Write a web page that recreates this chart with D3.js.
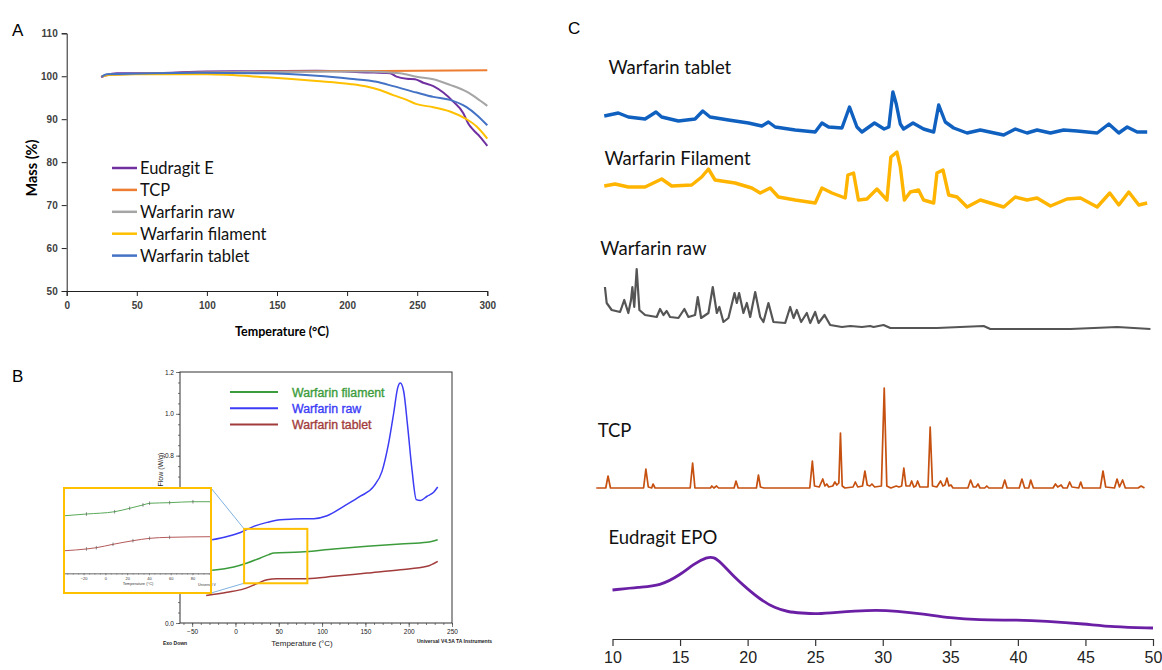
<!DOCTYPE html>
<html>
<head>
<meta charset="utf-8">
<script src="https://cdn.jsdelivr.net/npm/d3@7"></script>
<style>
body { margin: 0; background: #fff; }
svg { display: block; font-family: Lato, "Open Sans", sans-serif; }
</style>
</head>
<body>
<svg width="1162" height="670"></svg>
<script>
"use strict";
// ---------- A: TGA mass loss (temperature °C, mass %) ----------
const tgaNames = ["Eudragit E", "TCP", "Warfarin raw", "Warfarin filament", "Warfarin tablet"];
const tgaColors = ["#7030a0", "#ed7d31", "#a5a5a5", "#ffc000", "#4472c4"];
const tgaEudragit = [[24.5, 99.8], [28.5, 100.3], [35.7, 100.7], [59.4, 100.7], [99.8, 101.1], [142.6, 101.2],
  [178.3, 101.3], [213.9, 100.9], [230.6, 100.7], [235.3, 99.9], [242.5, 99.4], [248.4, 99.3], [254.3, 98.5],
  [261.5, 97.7], [268.6, 96.2], [275.7, 94.1], [282.9, 91.4], [286.4, 89.0], [290, 87.5], [294.8, 85.9], [300, 83.8]];
const tgaTCP = [[25, 99.9], [30, 100.3], [50, 100.6], [100, 100.9], [150, 101.1], [200, 101.2], [250, 101.3], [300, 101.4]];
const tgaRaw = [[25, 99.9], [30, 100.4], [60, 100.6], [100, 100.9], [150, 101.0], [213.9, 101.1], [237.7, 100.7],
  [249.6, 99.9], [261.5, 99.3], [273.4, 98.0], [285.2, 96.4], [292.4, 94.9], [300, 93.1]];
const tgaFilament = [[25, 100.0], [30, 100.3], [47.5, 100.45], [99.8, 100.45], [142.6, 99.75], [178.3, 98.9],
  [202, 98.2], [213.9, 97.6], [223.4, 96.8], [232.9, 95.6], [242.5, 94.5], [249.6, 93.5], [261.5, 92.8],
  [273.4, 91.8], [285.2, 90.0], [292.4, 88.3], [300, 85.5]];
const tgaTablet = [[25, 99.9], [28.5, 100.45], [95, 100.8], [142.6, 100.7], [178.3, 100.1], [202, 99.4],
  [221, 98.7], [232.9, 97.7], [249.6, 96.2], [261.5, 95.2], [273.4, 94.5], [285.2, 92.8], [292.4, 91.0], [300, 88.6]];
const tgaData = [tgaEudragit, tgaTCP, tgaRaw, tgaFilament, tgaTablet];
const tgaXTicks = [0, 50, 100, 150, 200, 250, 300];
const tgaYTicks = [50, 60, 70, 80, 90, 100, 110];

// ---------- B: DSC heat flow (temperature °C, W/g) ----------
const dscNames = ["Warfarin filament", "Warfarin raw", "Warfarin tablet"];
const dscColors = ["#3c9c3c", "#3c3cf5", "#a23c3c"];
const dscFilament = [[-26.9, 0.252], [-1.9, 0.268], [13.5, 0.287], [28.8, 0.311], [38.5, 0.327], [44.2, 0.335],
  [75, 0.339], [113.5, 0.354], [151.9, 0.367], [190.4, 0.378], [221.2, 0.386], [233.5, 0.398]];
const dscRaw = [[-26.9, 0.398], [-9.6, 0.414], [5.8, 0.433], [21.2, 0.462], [36.5, 0.481], [51.9, 0.494],
  [67.3, 0.497], [90.4, 0.499], [105.8, 0.513], [125, 0.558], [144.2, 0.606], [159.6, 0.653], [169.2, 0.725],
  [176.9, 0.861], [182.7, 1.004], [187.3, 1.124], [190.4, 1.147], [194.2, 1.108], [198.8, 0.94], [203.8, 0.733],
  [208.8, 0.59], [213.5, 0.586], [221.2, 0.606], [228.8, 0.625], [233.5, 0.65]];
const dscTablet = [[-33.8, 0.131], [-9.6, 0.147], [9.6, 0.163], [25, 0.188], [36.5, 0.207], [48.1, 0.212],
  [82.7, 0.212], [113.5, 0.223], [151.9, 0.239], [190.4, 0.255], [221.2, 0.271], [233.5, 0.295]];
const dscData = [dscFilament, dscRaw, dscTablet];
const dscXTicks = [-50, 0, 50, 100, 150, 200, 250];
const dscYTicks = [0, 0.2, 0.4, 0.6, 0.8, 1.0, 1.2];
const dscZoom = { t: [10, 83], w: [0.19, 0.45] };
// inset (glass transition close-up, relative units)
const insetFilament = [[-37.3, 0.675], [-17.4, 0.695], [8.5, 0.722], [22.3, 0.762], [34.5, 0.801], [40.6, 0.821],
  [59, 0.828], [80.4, 0.839], [96.6, 0.839]];
const insetTablet = [[-37.3, 0.265], [-17.4, 0.285], [-8.3, 0.3], [7, 0.34], [25.3, 0.382], [40.6, 0.41],
  [59, 0.422], [96.6, 0.429]];
const insetTicks = [-20, 0, 20, 40, 60, 80];

// ---------- C: XRD patterns (2θ, intensity a.u., stacked) ----------
const xrdTablet = [[9.39, 523], [10.43, 526], [11.17, 522], [12.41, 520], [13.22, 527], [13.64, 522], [14.88, 518],
  [16.11, 520], [16.68, 528], [17.22, 522], [18.58, 519], [20.06, 516], [21.05, 513], [21.54, 517], [22.04, 512],
  [23.52, 509], [25.0, 507], [25.5, 516], [25.99, 512], [26.98, 511], [27.54, 532], [28.09, 512], [28.46, 507],
  [29.39, 516], [30.1, 510], [30.45, 512], [30.75, 547], [31.0, 535], [31.3, 515], [31.54, 510], [32.24, 516],
  [33.02, 510], [33.77, 507], [34.14, 534], [34.63, 517], [35.25, 511], [36.24, 506], [37.22, 509], [38.95, 504],
  [39.81, 510], [40.68, 506], [41.42, 509], [42.41, 506], [43.39, 509], [44.39, 508], [45.87, 506], [46.73, 515],
  [47.47, 506], [48.09, 512], [48.83, 507], [49.57, 507]];
const xrdFilament = [[9.39, 453], [10.19, 455], [11.17, 452], [12.41, 452], [13.64, 460], [14.38, 453], [15.86, 454],
  [16.6, 462], [17.1, 470], [17.59, 459], [19.07, 456], [20.31, 451], [20.93, 446], [21.67, 451], [22.28, 442],
  [23.52, 439], [25.0, 436], [25.5, 451], [26.24, 446], [27.22, 441], [27.42, 464], [27.84, 466], [28.2, 439],
  [28.83, 440], [29.57, 450], [30.31, 439], [30.6, 482], [31.05, 487], [31.3, 472], [31.6, 439], [32.04, 447],
  [32.65, 449], [33.02, 439], [33.77, 436], [34.01, 466], [34.46, 469], [34.88, 444], [35.5, 442], [36.24, 432],
  [37.22, 439], [38.95, 432], [39.81, 442], [40.68, 439], [41.42, 441], [42.41, 433], [43.64, 440], [44.63, 441],
  [45.87, 432], [46.8, 446], [47.47, 434], [48.21, 447], [48.95, 434], [49.57, 436]];
const xrdRaw = [[9.44, 352], [9.57, 336], [9.94, 329], [10.56, 327], [10.87, 339], [11.17, 326], [11.37, 339],
  [11.47, 352], [11.61, 332], [11.79, 370], [11.99, 329], [12.41, 324], [13.27, 322], [13.52, 330], [13.77, 324],
  [14.01, 328], [14.26, 322], [14.88, 321], [15.32, 330], [15.62, 322], [16.11, 324], [16.31, 342], [16.56, 321],
  [17.1, 326], [17.42, 352], [17.72, 326], [17.91, 332], [18.21, 317], [18.58, 321], [19.03, 346], [19.2, 336],
  [19.37, 346], [19.69, 326], [19.94, 336], [20.19, 322], [20.56, 347], [20.93, 322], [21.17, 317], [21.54, 336],
  [21.91, 317], [22.78, 316], [23.15, 332], [23.4, 321], [23.64, 329], [23.96, 317], [24.38, 326], [24.63, 316],
  [25.0, 327], [25.25, 316], [25.69, 324], [26.11, 314], [26.98, 312], [27.6, 313], [28.46, 312], [29.07, 313],
  [29.32, 312], [30.06, 314], [30.56, 311], [34.01, 311], [37.47, 313], [37.96, 310], [43.89, 310], [47.35, 312],
  [49.81, 310]];
const xrdTCP = [[8.8, 151], [9.5, 151], [9.67, 163], [9.85, 151], [12.3, 151], [12.47, 170], [12.65, 152], [12.9, 151],
  [13.0, 155], [13.15, 151], [15.75, 151], [15.93, 176], [16.1, 151], [17.25, 151], [17.35, 153], [17.5, 151],
  [17.7, 153], [17.85, 151], [19.0, 151], [19.14, 158], [19.3, 151], [20.65, 151], [20.8, 164], [20.95, 152],
  [21.2, 151], [24.6, 151], [24.79, 178], [24.95, 153], [25.3, 152], [25.56, 160], [25.72, 153], [25.86, 155],
  [26.0, 152], [26.3, 153], [26.46, 157], [26.6, 154], [26.75, 156], [26.87, 206], [27.0, 153], [27.2, 151],
  [27.8, 152], [27.97, 157], [28.15, 152], [28.5, 153], [28.68, 168], [28.85, 154], [29.05, 153], [29.2, 155],
  [29.4, 152], [29.9, 153], [30.11, 251], [30.3, 153], [30.6, 151], [31.0, 153], [31.2, 152], [31.4, 153],
  [31.56, 171], [31.72, 153], [32.0, 153], [32.14, 158], [32.3, 152], [32.45, 153], [32.58, 158], [32.75, 152],
  [33.35, 152], [33.51, 212], [33.68, 153], [34.0, 152], [34.28, 158], [34.45, 153], [34.6, 154], [34.75, 161],
  [34.9, 153], [35.05, 154], [35.2, 151], [36.3, 151], [36.5, 159], [36.7, 152], [36.9, 152], [37.05, 155],
  [37.2, 151], [37.55, 151], [37.7, 153], [37.85, 151], [38.85, 151], [39.03, 159], [39.2, 151], [40.1, 151],
  [40.3, 160], [40.5, 151], [40.8, 151], [40.95, 159], [41.15, 151], [42.6, 151], [42.78, 155], [42.95, 152],
  [43.2, 154], [43.35, 151], [43.65, 151], [43.83, 157], [44.0, 152], [44.5, 151], [44.65, 157], [44.8, 151],
  [46.1, 151], [46.3, 168], [46.5, 152], [47.15, 151], [47.34, 160], [47.52, 152], [47.75, 159], [47.95, 151],
  [48.9, 151], [49.12, 153], [49.37, 151]];
const xrdEudragit = [[10, 49], [12, 52], [13.5, 53], [15, 64], [16, 75], [17, 82], [17.5, 82], [18, 77], [19, 62],
  [20, 50], [21, 39], [22, 31], [23, 27], [24, 26], [25, 25], [26, 26], [28, 28], [29.5, 29], [31, 28], [33, 25],
  [35, 21], [37, 19], [40, 19], [42, 18], [45, 15], [47, 12], [50, 11]];
const xrdNames = ["Warfarin tablet", "Warfarin Filament", "Warfarin raw", "TCP", "Eudragit EPO"];
const xrdColors = ["#1060c0", "#ffb400", "#555555", "#c5500f", "#6a1fa5"];
const xrdData = [xrdTablet, xrdFilament, xrdRaw, xrdTCP, xrdEudragit];
const xrdLabelAt = [[9.7, 565], [9.4, 474], [9.1, 384], [8.9, 202], [9.7, 95]];
const xrdTicks = [10, 15, 20, 25, 30, 35, 40, 45, 50];

const svg = d3.select("svg");
svg.append("rect").attr("width", 1162).attr("height", 670).attr("fill", "#fff");

// panel letters
[["A", 12, 36], ["B", 12, 382], ["C", 568, 34]].forEach(([t, x, y]) => {
  svg.append("text").attr("x", x).attr("y", y).text(t)
    .style("font-family", "'Liberation Sans', Arial, sans-serif").style("font-size", "17px");
});

// ================= panel A =================
const xA = d3.scaleLinear().domain([0, 300]).range([66.7, 487.3]);
const yA = d3.scaleLinear().domain([50, 110]).range([291, 33.3]);
const gA = svg.append("g");
gA.append("g").attr("transform", `translate(0,${yA(50)})`)
  .call(d3.axisBottom(xA).tickValues(tgaXTicks).tickSize(5).tickPadding(6))
  .call(g => g.selectAll("text").style("font-size", "10px").style("font-weight", "bold").attr("fill", "#404040"));
gA.append("g").attr("transform", `translate(${xA(0)},0)`)
  .call(d3.axisLeft(yA).tickValues(tgaYTicks).tickSize(5).tickPadding(4))
  .call(g => g.selectAll("text").style("font-size", "10px").style("font-weight", "bold").attr("fill", "#404040"));
gA.selectAll(".domain, .tick line").attr("stroke", "#222");
gA.append("text").attr("x", 282).attr("y", 336).attr("text-anchor", "middle")
  .style("font-size", "12.5px").style("font-weight", "bold").text("Temperature (°C)");
gA.append("text").attr("transform", "translate(37,168) rotate(-90)").attr("text-anchor", "middle")
  .style("font-size", "14.5px").style("font-weight", "bold").text("Mass (%)");
const lineA = d3.line().x(d => xA(d[0])).y(d => yA(d[1])).curve(d3.curveMonotoneX);
tgaData.forEach((s, i) => {
  gA.append("path").datum(s).attr("d", lineA).attr("fill", "none")
    .attr("stroke", tgaColors[i]).attr("stroke-width", 2);
});
const legA = gA.append("g").attr("transform", "translate(112,168)");
tgaNames.forEach((n, i) => {
  const row = legA.append("g").attr("transform", `translate(0,${i * 21.9})`);
  row.append("line").attr("x1", 0).attr("x2", 25).attr("stroke", tgaColors[i]).attr("stroke-width", 2.5);
  row.append("text").attr("x", 28).attr("y", 6).style("font-size", "16.5px").attr("fill", "#111").text(n);
});

// ================= panel B =================
const xB = d3.scaleLinear().domain([-64, 250]).range([180, 452]);
const yB = d3.scaleLinear().domain([0, 1.2]).range([623, 372]);
const inset = { x: 64, y: 488, w: 147, h: 105 };
const gB = svg.append("g").style("font-family", "'Liberation Sans', Arial, sans-serif");
gB.append("rect").attr("x", xB.range()[0]).attr("y", yB.range()[1])
  .attr("width", xB.range()[1] - xB.range()[0]).attr("height", yB.range()[0] - yB.range()[1])
  .attr("fill", "none").attr("stroke", "#333").attr("stroke-width", 1);
gB.append("g").attr("transform", `translate(0,${yB(0)})`)
  .call(d3.axisBottom(xB).tickValues(d3.range(-60, 251, 10)).tickSize(2).tickFormat(""));
gB.append("g").attr("transform", `translate(0,${yB(0)})`)
  .call(d3.axisBottom(xB).tickValues(dscXTicks).tickSize(4).tickPadding(2))
  .call(g => g.selectAll("text").style("font-size", "6.5px").attr("fill", "#222"));
gB.append("g").attr("transform", `translate(${xB.range()[0]},0)`)
  .call(d3.axisLeft(yB).tickValues(d3.range(0, 1.21, 0.05)).tickSize(2).tickFormat(""));
// labels lying under the inset are covered in the original, so they are left blank
gB.append("g").attr("transform", `translate(${xB.range()[0]},0)`)
  .call(d3.axisLeft(yB).tickValues(dscYTicks).tickSize(4).tickPadding(2)
    .tickFormat(d => (yB(d) > inset.y - 4 && yB(d) < inset.y + inset.h + 4) ? "" : d3.format(".1f")(d)))
  .call(g => g.selectAll("text").style("font-size", "6.5px").attr("fill", "#222"));
gB.selectAll(".domain").remove();
gB.selectAll(".tick line").attr("stroke", "#444").attr("stroke-width", 0.7);
gB.append("text").attr("transform", "translate(163,478) rotate(-90)").attr("text-anchor", "middle")
  .style("font-size", "7px").attr("fill", "#222").text("Heat Flow (W/g)");
gB.append("text").attr("x", 302).attr("y", 646).attr("text-anchor", "middle")
  .style("font-size", "8px").attr("fill", "#222").text("Temperature (°C)");
gB.append("text").attr("x", 163).attr("y", 645).style("font-size", "5px").style("font-weight", "bold")
  .attr("fill", "#222").text("Exo Down");
gB.append("text").attr("x", 417).attr("y", 643).style("font-size", "5px").style("font-weight", "bold")
  .attr("fill", "#222").text("Universal V4.5A TA Instruments");
const lineB = d3.line().x(d => xB(d[0])).y(d => yB(d[1])).curve(d3.curveMonotoneX);
dscData.forEach((s, i) => {
  gB.append("path").datum(s).attr("d", lineB).attr("fill", "none")
    .attr("stroke", dscColors[i]).attr("stroke-width", 1.5);
});
const legB = gB.append("g").attr("transform", "translate(230,392)");
dscNames.forEach((n, i) => {
  const row = legB.append("g").attr("transform", `translate(0,${i * 16.2})`);
  row.append("line").attr("x1", 0).attr("x2", 48).attr("stroke", dscColors[i]).attr("stroke-width", 2);
  row.append("text").attr("x", 62).attr("y", 4.5).style("font-size", "12.3px")
    .attr("fill", dscColors[i]).attr("stroke", dscColors[i]).attr("stroke-width", 0.35).text(n);
});
// zoom box and connectors
const zx0 = xB(dscZoom.t[0]), zx1 = xB(dscZoom.t[1]), zy0 = yB(dscZoom.w[1]), zy1 = yB(dscZoom.w[0]);
gB.append("line").attr("x1", inset.x + inset.w).attr("y1", inset.y).attr("x2", zx0).attr("y2", zy0)
  .attr("stroke", "#7fb2e0").attr("stroke-width", 1);
gB.append("line").attr("x1", inset.x + inset.w).attr("y1", inset.y + inset.h).attr("x2", zx0).attr("y2", zy1)
  .attr("stroke", "#7fb2e0").attr("stroke-width", 1);
gB.append("rect").attr("x", zx0).attr("y", zy0).attr("width", zx1 - zx0).attr("height", zy1 - zy0)
  .attr("fill", "none").attr("stroke", "#ffc000").attr("stroke-width", 2);
// inset close-up
const gIn = gB.append("g");
gIn.append("rect").attr("x", inset.x).attr("y", inset.y).attr("width", inset.w).attr("height", inset.h)
  .attr("fill", "#fff");
const xIn = d3.scaleLinear().domain([-38, 97]).range([inset.x, inset.x + inset.w]);
const yIn = d3.scaleLinear().domain([0, 1]).range([573.3, 488]);
gIn.append("g").attr("transform", `translate(0,${yIn(0)})`)
  .call(d3.axisBottom(xIn).tickValues(d3.range(-35, 96, 5)).tickSize(1.5).tickFormat(""));
gIn.append("g").attr("transform", `translate(0,${yIn(0)})`)
  .call(d3.axisBottom(xIn).tickValues(insetTicks).tickSize(2).tickPadding(1.5))
  .call(g => g.selectAll("text").style("font-size", "4px").attr("fill", "#333"));
gIn.selectAll(".domain").attr("stroke", "#666").attr("stroke-width", 0.6);
gIn.selectAll(".tick line").attr("stroke", "#666").attr("stroke-width", 0.5);
gIn.append("text").attr("x", 138).attr("y", 585).attr("text-anchor", "middle")
  .style("font-size", "4px").attr("fill", "#333").text("Temperature (°C)");
gIn.append("text").attr("x", 198).attr("y", 586).style("font-size", "3.5px").attr("fill", "#333").text("Universal V");
const lineIn = d3.line().x(d => xIn(d[0])).y(d => yIn(d[1])).curve(d3.curveMonotoneX);
[[insetFilament, "#5aaa5a"], [insetTablet, "#b55a5a"]].forEach(([s, c]) => {
  gIn.append("path").datum(s).attr("d", lineIn).attr("fill", "none").attr("stroke", c).attr("stroke-width", 1);
  gIn.selectAll(null).data(s.slice(1, -1)).enter().append("line")
    .attr("x1", d => xIn(d[0])).attr("x2", d => xIn(d[0]))
    .attr("y1", d => yIn(d[1]) - 1.8).attr("y2", d => yIn(d[1]) + 1.8)
    .attr("stroke", "#444").attr("stroke-width", 0.6);
});
gIn.append("rect").attr("x", inset.x).attr("y", inset.y).attr("width", inset.w).attr("height", inset.h)
  .attr("fill", "none").attr("stroke", "#ffc000").attr("stroke-width", 2);

// ================= panel C =================
const xC = d3.scaleLinear().domain([10, 50]).range([612.5, 1153]);
const yC = d3.scaleLinear().domain([0, 600]).range([639, 39]);
const gC = svg.append("g");
gC.append("g").attr("transform", `translate(0,${yC(0)})`)
  .call(d3.axisBottom(xC).tickValues(xrdTicks).tickSize(7).tickPadding(6).tickSizeOuter(0))
  .call(g => g.selectAll("text").style("font-size", "16px").attr("fill", "#222"));
gC.selectAll(".domain, .tick line").attr("stroke", "#333").attr("stroke-width", 1.2);
const xrdWidths = [3.4, 3.4, 2.2, 1.7, 2.8];
xrdData.forEach((s, i) => {
  const line = d3.line().x(d => xC(d[0])).y(d => yC(d[1]))
    .curve(i === 4 ? d3.curveBasis : d3.curveLinear);
  gC.append("path").datum(s).attr("d", line).attr("fill", "none")
    .attr("stroke", xrdColors[i]).attr("stroke-width", xrdWidths[i]).attr("stroke-linejoin", "round");
  gC.append("text").attr("x", xC(xrdLabelAt[i][0])).attr("y", yC(xrdLabelAt[i][1]))
    .style("font-size", "18.5px").attr("fill", "#111").text(xrdNames[i]);
});
</script>
</body>
</html>
